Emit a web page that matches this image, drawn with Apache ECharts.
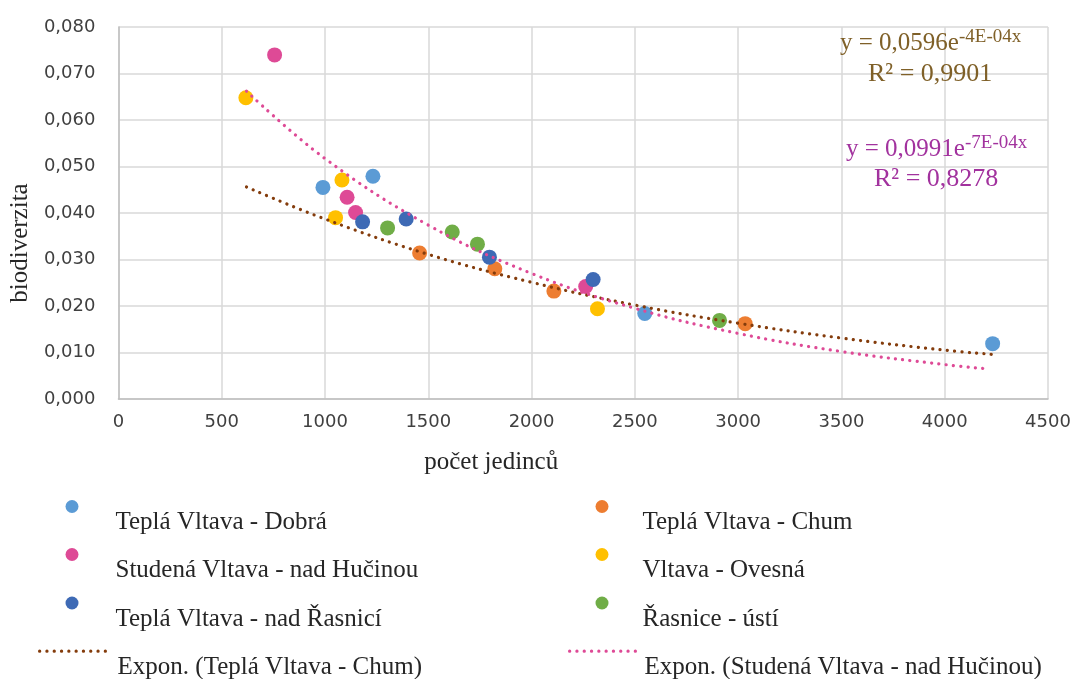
<!DOCTYPE html>
<html>
<head>
<meta charset="utf-8">
<script src="https://cdn.jsdelivr.net/npm/echarts@6/dist/echarts.min.js"></script>
<style>
html,body{margin:0;padding:0;background:#fff;}
#chart{width:1074px;height:679px;}
</style>
</head>
<body>
<div id="chart"></div>
<script>
// ---- data ----
const seriesNames = [
  'Teplá Vltava - Dobrá',
  'Teplá Vltava - Chum',
  'Studená Vltava - nad Hučinou',
  'Vltava - Ovesná',
  'Teplá Vltava - nad Řasnicí',
  'Řasnice - ústí'
];
const dobraX = [990, 1232, 2548, 4232];
const dobraY = [0.0455, 0.0479, 0.0184, 0.0119];
const chumX = [1458, 1822, 2108, 3034];
const chumY = [0.0314, 0.0280, 0.0232, 0.0162];
const studenaX = [756, 1107, 1148, 2262];
const studenaY = [0.0740, 0.0434, 0.0401, 0.0242];
const ovesnaX = [617, 1082, 1051, 2319];
const ovesnaY = [0.0648, 0.0471, 0.0390, 0.0194];
const rasniciX = [1182, 1393, 1796, 2298];
const rasniciY = [0.0381, 0.0387, 0.0305, 0.0257];
const ustiX = [1303, 1616, 1738, 2910];
const ustiY = [0.0368, 0.0359, 0.0333, 0.0169];

// trend lines
const trendChumName = 'Expon. (Teplá Vltava - Chum)';
const trendChumX = [620, 1000, 1500, 2000, 2500, 3000, 3500, 4000, 4230];
const trendChumY = [0.0456, 0.0387, 0.0311, 0.0251, 0.0202, 0.0163, 0.0131, 0.0105, 0.0096];
const trendStudenaName = 'Expon. (Studená Vltava - nad Hučinou)';
const trendStudenaX = [620, 1000, 1500, 2000, 2500, 3000, 3500, 4000, 4200];
const trendStudenaY = [0.0662, 0.0517, 0.0374, 0.0270, 0.0195, 0.0141, 0.0102, 0.0074, 0.0065];

const xTicks = {min: 0, max: 4500, interval: 500};
const yTicks = {min: 0, max: 0.08, interval: 0.01};

const eq1 = {main: 'y = 0,0596e', sup: '-4E-04x', r2: 'R² = 0,9901'};
const eq2 = {main: 'y = 0,0991e', sup: '-7E-04x', r2: 'R² = 0,8278'};

// ---- styles ----
const colors = ['#5B9BD5', '#ED7D31', '#DE4A96', '#FFC000', '#3E6AB5', '#70AD47'];
const trendColors = ['#843C0C', '#DE4A96'];
const serif = '"Liberation Serif", "Times New Roman", serif';
const sans = '"DejaVu Sans", sans-serif';

function zip(xs, ys) { return xs.map((x, i) => [x, ys[i]]); }

const pointData = [
  zip(dobraX, dobraY), zip(chumX, chumY), zip(studenaX, studenaY),
  zip(ovesnaX, ovesnaY), zip(rasniciX, rasniciY), zip(ustiX, ustiY)
];

const series = seriesNames.map((n, i) => ({
  name: n, type: 'scatter', data: pointData[i], symbol: 'circle', symbolSize: 15,
  itemStyle: {color: colors[i], opacity: 1}, z: 2
}));
const dotStyle = (c) => ({color: c, width: 3.2, type: [0.1, 7.2], cap: 'round'});
series.push({
  name: trendChumName, type: 'line', data: zip(trendChumX, trendChumY), smooth: 0.4,
  symbol: 'none', lineStyle: dotStyle(trendColors[0]), itemStyle: {color: trendColors[0]}, z: 3
});
series.push({
  name: trendStudenaName, type: 'line', data: zip(trendStudenaX, trendStudenaY), smooth: 0.4,
  symbol: 'none', lineStyle: dotStyle(trendColors[1]), itemStyle: {color: trendColors[1]}, z: 3
});

const legendNames = [
  seriesNames[0], seriesNames[1],
  seriesNames[2], seriesNames[3],
  seriesNames[4], seriesNames[5],
  trendChumName, trendStudenaName
];
const rowIcon = [506, 554, 602.5, 652];
const legends = legendNames.map((n, i) => {
  const isLine = i >= 6;
  const right = i % 2 === 1;
  const colX = right ? 568 : 38;
  const lg = {
    data: [n], orient: 'horizontal', padding: 0,
    left: isLine ? colX : colX + 27.5,
    top: rowIcon[Math.floor(i / 2)] - 6,
    itemWidth: isLine ? 68 : 13, itemHeight: 13, itemGap: 0,
    formatter: (name) => '{t|' + name + '}',
    textStyle: {
      fontFamily: serif, fontSize: 25, color: '#262626',
      rich: {t: {fontFamily: serif, fontSize: 25, color: '#262626',
        padding: [32, 0, 0, (isLine ? 5 : 32) - (right ? 3 : 0)]}}
    },
    selectedMode: false
  };
  if (isLine) {
    lg.itemStyle = {opacity: 0};
    lg.lineStyle = {width: 3.2, type: [0.1, 7.2], cap: 'round'};
  }
  return lg;
});

const option = {
  animation: false,
  backgroundColor: '#fff',
  grid: {left: 118, right: 26, top: 27, bottom: 280, containLabel: false},
  xAxis: {
    type: 'value', min: xTicks.min, max: xTicks.max, interval: xTicks.interval,
    name: 'počet jedinců', nameLocation: 'middle', nameGap: 51,
    nameTextStyle: {fontFamily: serif, fontSize: 25, color: '#262626', padding: [0, 184, 0, 0]},
    axisLine: {show: true, lineStyle: {color: '#BFBFBF', width: 1.5}},
    axisTick: {show: false},
    axisLabel: {fontFamily: sans, fontSize: 18, color: '#404040', margin: 14,
      formatter: (v) => String(v)},
    splitLine: {show: true, lineStyle: {color: '#D9D9D9', width: 1.5}}
  },
  yAxis: {
    type: 'value', min: yTicks.min, max: yTicks.max, interval: yTicks.interval,
    name: 'biodiverzita', nameLocation: 'middle', nameGap: 77, nameRotate: 90,
    nameTextStyle: {fontFamily: serif, fontSize: 25, color: '#262626', padding: [0, 60, 0, 0]},
    axisLine: {show: true, lineStyle: {color: '#BFBFBF', width: 1.5}},
    axisTick: {show: false},
    axisLabel: {fontFamily: sans, fontSize: 18, color: '#404040', margin: 23,
      formatter: (v) => v.toFixed(3).replace('.', ',')},
    splitLine: {show: true, lineStyle: {color: '#D9D9D9', width: 1.5}}
  },
  legend: legends,
  series: series,
  graphic: [
    {type: 'text', left: 840, top: 28, z: 10, style: {
      text: '{m|' + eq1.main + '}{s|' + eq1.sup + '}',
      rich: {m: {fontFamily: serif, fontSize: 25, fill: '#7F6028', verticalAlign: 'bottom', lineHeight: 28},
             s: {fontFamily: serif, fontSize: 19, fill: '#7F6028', verticalAlign: 'top', lineHeight: 28}}}},
    {type: 'text', left: 868, top: 61, z: 10, style: {
      text: eq1.r2, fontFamily: serif, fontSize: 26, fill: '#7F6028'}},
    {type: 'text', left: 846, top: 134, z: 10, style: {
      text: '{m|' + eq2.main + '}{s|' + eq2.sup + '}',
      rich: {m: {fontFamily: serif, fontSize: 25, fill: '#A2329E', verticalAlign: 'bottom', lineHeight: 28},
             s: {fontFamily: serif, fontSize: 19, fill: '#A2329E', verticalAlign: 'top', lineHeight: 28}}}},
    {type: 'text', left: 874, top: 166, z: 10, style: {
      text: eq2.r2, fontFamily: serif, fontSize: 26, fill: '#A2329E'}}
  ]
};

const chart = echarts.init(document.getElementById('chart'), null, {renderer: 'canvas'});
chart.setOption(option);
</script>
</body>
</html>
